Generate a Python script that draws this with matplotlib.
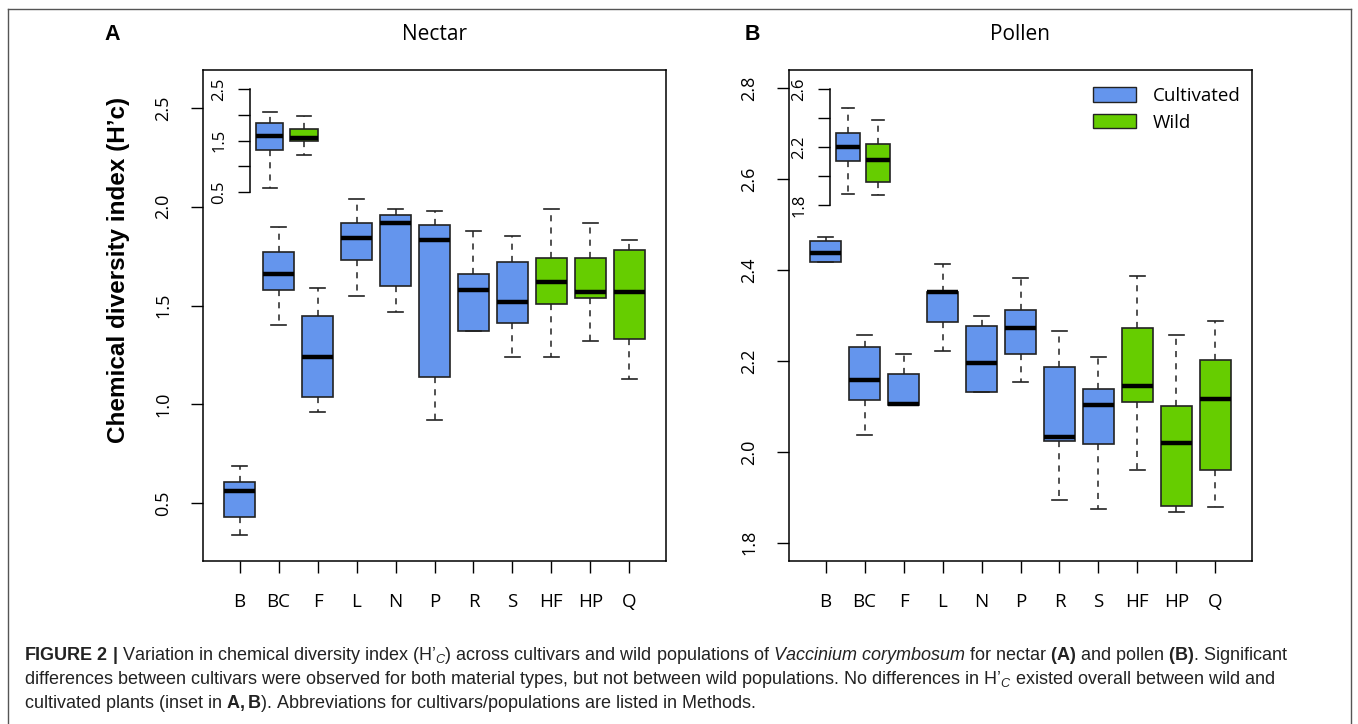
import numpy as np
import matplotlib
matplotlib.use("Agg")
import matplotlib.pyplot as plt
from matplotlib.patches import Patch
from matplotlib.lines import Line2D

plt.rcParams['mathtext.fontset'] = 'custom'
plt.rcParams['mathtext.rm'] = 'Liberation Sans'
plt.rcParams['mathtext.it'] = 'Liberation Sans:italic'
plt.rcParams['mathtext.bf'] = 'Liberation Sans:bold'

W, H = 1358, 724

categories = ['B', 'BC', 'F', 'L', 'N', 'P', 'R', 'S', 'HF', 'HP', 'Q']
groups = ['Cultivated'] * 8 + ['Wild'] * 3
colors = {'Cultivated': '#6495ED', 'Wild': '#66CD00'}

# nectar (A)
nectar_whislo = [0.34, 1.40, 0.96, 1.55, 1.47, 0.92, 1.37, 1.24, 1.24, 1.32, 1.13]
nectar_q1 = [0.43, 1.58, 1.04, 1.73, 1.60, 1.14, 1.37, 1.41, 1.51, 1.54, 1.33]
nectar_med = [0.56, 1.66, 1.24, 1.84, 1.92, 1.83, 1.58, 1.52, 1.62, 1.57, 1.57]
nectar_q3 = [0.61, 1.77, 1.45, 1.92, 1.96, 1.91, 1.66, 1.72, 1.74, 1.74, 1.78]
nectar_whishi = [0.69, 1.90, 1.59, 2.04, 1.99, 1.98, 1.88, 1.85, 1.99, 1.92, 1.83]

# pollen (B)
pollen_whislo = [2.418, 2.038, 2.103, 2.222, 2.132, 2.154, 1.894, 1.875, 1.960, 1.867, 1.878]
pollen_q1 = [2.418, 2.114, 2.103, 2.286, 2.132, 2.216, 2.024, 2.017, 2.110, 1.881, 1.960]
pollen_med = [2.438, 2.158, 2.105, 2.351, 2.195, 2.273, 2.033, 2.103, 2.146, 2.019, 2.117]
pollen_q3 = [2.464, 2.231, 2.172, 2.352, 2.278, 2.312, 2.187, 2.139, 2.273, 2.100, 2.202]
pollen_whishi = [2.473, 2.257, 2.215, 2.413, 2.299, 2.382, 2.267, 2.208, 2.387, 2.257, 2.289]

# insets: cultivated vs wild overall (whislo, q1, med, q3, whishi)
inset_groups = ['Cultivated', 'Wild']
nectar_inset = [[0.57, 1.32, 1.60, 1.85, 2.05], [1.23, 1.49, 1.56, 1.73, 1.99]]
pollen_inset = [[1.875, 2.107, 2.199, 2.297, 2.471], [1.868, 1.958, 2.111, 2.219, 2.387]]

nectar_yticks = [0.5, 1.0, 1.5, 2.0, 2.5]
pollen_yticks = [1.8, 2.0, 2.2, 2.4, 2.6, 2.8]
nectar_inset_ticks = [0.5, 1.0, 1.5, 2.0, 2.5]
pollen_inset_ticks = [1.8, 2.0, 2.2, 2.4, 2.6]

LABEL_FONT = 'Open Sans'


def px_axes(fig, left, top, right, bottom):
    return fig.add_axes([left / W, (H - bottom) / H, (right - left) / W, (bottom - top) / H])


def make_stats(lo, q1, med, q3, hi):
    return [dict(whislo=a, q1=b, med=c, q3=d, whishi=e) for a, b, c, d, e in zip(lo, q1, med, q3, hi)]


def draw_boxes(ax, stats, fill):
    bp = ax.bxp(stats, positions=np.arange(1, len(stats) + 1), widths=0.8, capwidths=0.4,
                patch_artist=True, showfliers=False,
                boxprops=dict(edgecolor='#222222', linewidth=1.2),
                whiskerprops=dict(color='#222222', linewidth=1.1, linestyle=(0, (4, 4))),
                capprops=dict(color='#222222', linewidth=1.2),
                medianprops=dict(color='black', linewidth=3.2, solid_capstyle='butt'))
    for patch, c in zip(bp['boxes'], fill):
        patch.set_facecolor(colors[c])
    return bp


def style_axis(ax, fontsize, ypad, length):
    ax.tick_params(axis='y', length=length, width=1, pad=ypad, labelsize=fontsize, labelrotation=90)
    for lab in ax.get_yticklabels():
        lab.set_fontfamily(LABEL_FONT)
        lab.set_va('center')


def draw_panel(fig, left, right, stats, ylim, yticks, title, letter, letter_x):
    ax = px_axes(fig, left, 70, right, 561)
    draw_boxes(ax, stats, groups)
    ax.set_xlim(0.5 - 0.44, 11.5 + 0.44)
    r = ylim[1] - ylim[0]
    ax.set_ylim(ylim[0] - 0.04 * r, ylim[1] + 0.04 * r)
    ax.set_yticks(yticks)
    ax.set_yticklabels([f'{t:.1f}' for t in yticks])
    ax.set_xticks(np.arange(1, 12))
    ax.set_xticklabels(categories, fontfamily=LABEL_FONT, fontsize=13.5)
    ax.tick_params(axis='x', length=8.8, width=1, pad=14)
    style_axis(ax, 13, 13.5, 8.8)
    for s in ax.spines.values():
        s.set_linewidth(1.1)
    fig.text((left + right) / 2 / W, 1 - 35 / H, title, ha='center', va='center',
             fontsize=15, fontfamily=LABEL_FONT)
    fig.text(letter_x / W, 1 - 35 / H, letter, ha='center', va='center',
             fontsize=15.5, fontweight='bold', fontfamily='Liberation Sans')
    return ax


def draw_inset(fig, spine_x, top_px, bot_px, ylim, xlim, data, ticks, labels):
    ax = px_axes(fig, spine_x, top_px, spine_x + 85, bot_px)
    ax.patch.set_alpha(0)
    stats = [dict(whislo=d[0], q1=d[1], med=d[2], q3=d[3], whishi=d[4]) for d in data]
    draw_boxes(ax, stats, inset_groups)
    ax.set_xlim(*xlim)
    ax.set_ylim(*ylim)
    ax.set_xticks([])
    for side in ['top', 'right', 'bottom']:
        ax.spines[side].set_visible(False)
    ax.spines['left'].set_bounds(ticks[0], ticks[-1])
    ax.spines['left'].set_linewidth(1.1)
    ax.set_yticks(ticks)
    ax.set_yticklabels(labels)
    style_axis(ax, 12, 8, 8.4)
    return ax


def main():
    fig = plt.figure(figsize=(W / 100, H / 100), dpi=100)

    # outer frame
    frame_kw = dict(color='#555555', linewidth=1.0, transform=fig.transFigure)
    fig.add_artist(Line2D([8 / W, 8 / W], [0, 1 - 9 / H], **frame_kw))
    fig.add_artist(Line2D([8 / W, 1351 / W], [1 - 9 / H, 1 - 9 / H], **frame_kw))
    fig.add_artist(Line2D([1351 / W, 1351 / W], [0, 1 - 9 / H], **frame_kw))

    nectar_stats = make_stats(nectar_whislo, nectar_q1, nectar_med, nectar_q3, nectar_whishi)
    pollen_stats = make_stats(pollen_whislo, pollen_q1, pollen_med, pollen_q3, pollen_whishi)

    draw_panel(fig, 203, 666, nectar_stats, (0.3, 2.6), nectar_yticks, 'Nectar', 'A', 112)
    axb = draw_panel(fig, 789, 1252, pollen_stats, (1.8, 2.8), pollen_yticks, 'Pollen', 'B', 752)

    # insets
    draw_inset(fig, 250, 80, 200, (0.346, 2.681), (0.426, 0.426 + 85 / 34.3), nectar_inset,
               nectar_inset_ticks, ['0.5', '', '1.5', '', '2.5'])
    draw_inset(fig, 830, 80, 215, (1.733, 2.662), (0.406, 0.406 + 85 / 30.3), pollen_inset,
               pollen_inset_ticks, ['1.8', '', '2.2', '', '2.6'])

    handles = [Patch(facecolor=colors[g], edgecolor='#222222', linewidth=1.0) for g in inset_groups]
    axb.legend(handles, inset_groups, loc='upper left', bbox_to_anchor=((1093 - 789 - 13) / 463, 1 - 4 / 491),
               frameon=False, prop=dict(family=LABEL_FONT, size=13.5), handlelength=2.3,
               handleheight=0.8, handletextpad=0.9, labelspacing=0.45, borderpad=0.2)

    fig.text(118 / W, 1 - 270 / H, "Chemical diversity index (H\u2019c)", rotation=90, ha='center',
             va='center', fontsize=17.5, fontweight='bold', fontfamily='Liberation Sans')

    # caption
    cap_kw = dict(ha='left', va='center', fontsize=13, fontfamily='Liberation Sans', color='#222222')
    fig.text(24 / W, 1 - 656 / H,
             r"$\mathbf{FIGURE\ 2\ |}$ Variation in chemical diversity index (H" + "\u2019" +
             r"$_{C}$) across cultivars and wild populations of $\mathit{Vaccinium\ corymbosum}$ "
             r"for nectar $\mathbf{(A)}$ and pollen $\mathbf{(B)}$. Significant", **cap_kw)
    fig.text(24 / W, 1 - 680 / H,
             "differences between cultivars were observed for both material types, but not between wild populations. "
             "No differences in H\u2019$_{C}$ existed overall between wild and", **cap_kw)
    fig.text(24 / W, 1 - 703 / H,
             r"cultivated plants (inset in $\mathbf{A,B}$). Abbreviations for cultivars/populations are listed in Methods.",
             **cap_kw)

    fig.savefig('out.png', dpi=100)
    plt.close(fig)


if __name__ == "__main__":
    main()
